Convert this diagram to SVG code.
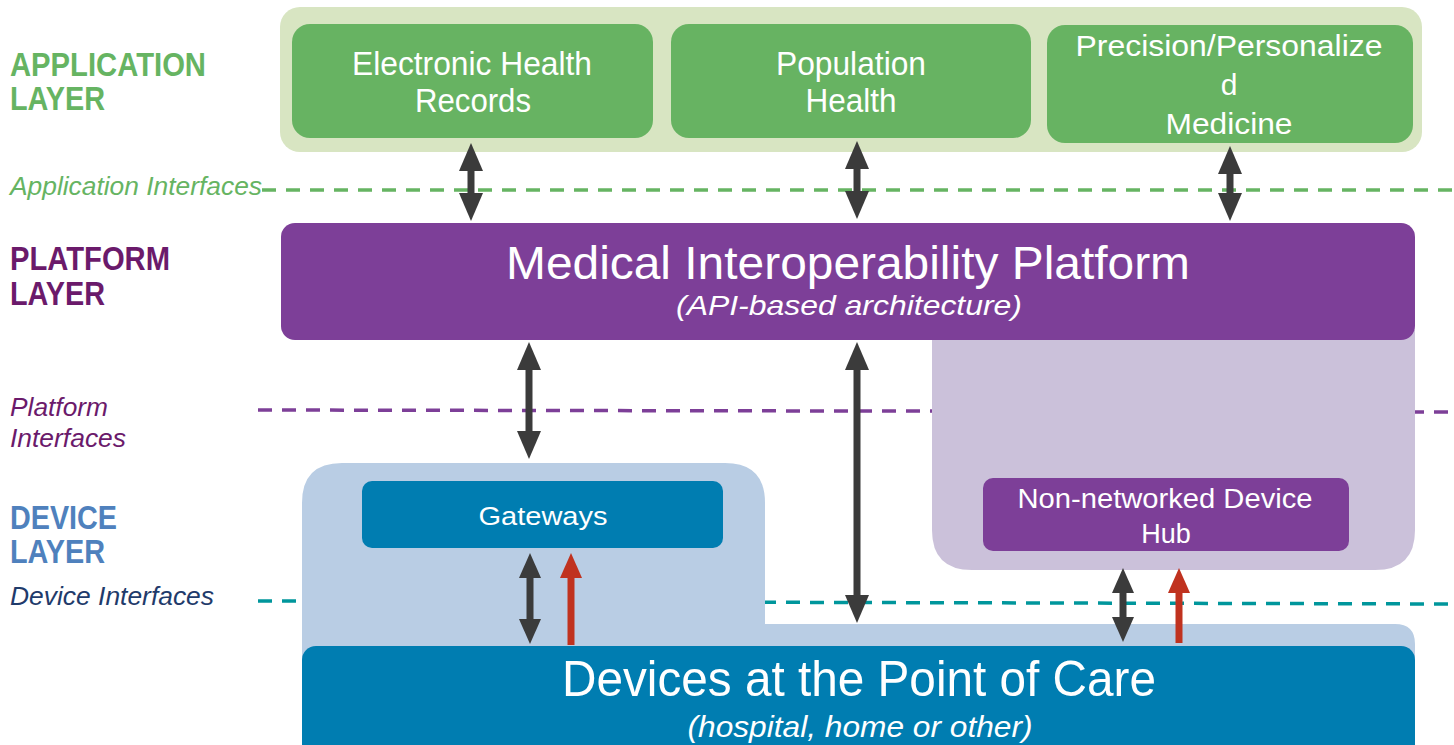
<svg xmlns="http://www.w3.org/2000/svg" width="1454" height="745" viewBox="0 0 1454 745">
<style>
text{font-family:"Liberation Sans",Arial,sans-serif;}
.lbl{font-weight:bold;font-size:33px;}
.it{font-style:italic;}
.w{fill:#ffffff;text-anchor:middle;}
.dash{stroke-width:3.5;stroke-dasharray:14 10;fill:none;}
.arr{stroke:#3b3b3b;stroke-width:7;fill:none;marker-start:url(#hd);marker-end:url(#hd);}
.arrs{stroke:#3b3b3b;stroke-width:7;fill:none;marker-start:url(#hs);marker-end:url(#hs);}
.red{stroke:#c0321f;stroke-width:7;fill:none;marker-end:url(#hr);}
</style>
<defs>
<marker id="hd" markerUnits="userSpaceOnUse" markerWidth="28" markerHeight="24" viewBox="0 0 28 24" refX="1" refY="12" orient="auto-start-reverse"><path d="M0,0 L28,12 L0,24 z" fill="#3b3b3b"/></marker>
<marker id="hs" markerUnits="userSpaceOnUse" markerWidth="25" markerHeight="22" viewBox="0 0 25 22" refX="1" refY="11" orient="auto-start-reverse"><path d="M0,0 L25,11 L0,22 z" fill="#3b3b3b"/></marker>
<marker id="hr" markerUnits="userSpaceOnUse" markerWidth="25" markerHeight="22" viewBox="0 0 25 22" refX="1" refY="11" orient="auto"><path d="M0,0 L25,11 L0,22 z" fill="#c0321f"/></marker>
</defs>

<g id="interfaces">
<line class="dash" x1="262" y1="190" x2="1454" y2="190" stroke="#66b462"/>
<line class="dash" x1="258" y1="410" x2="1454" y2="412" stroke="#7d3f98"/>
<line class="dash" x1="258" y1="601" x2="1454" y2="604" stroke="#00969c"/>
</g>

<g id="labels">
<text class="lbl" x="10" y="76" fill="#66b462" textLength="196" lengthAdjust="spacingAndGlyphs">APPLICATION</text>
<text class="lbl" x="10" y="110" fill="#66b462" textLength="95" lengthAdjust="spacingAndGlyphs">LAYER</text>
<text class="it" x="10" y="195" font-size="25" fill="#66b462" textLength="252" lengthAdjust="spacingAndGlyphs">Application Interfaces</text>
<text class="lbl" x="10" y="270" fill="#6b1a6b" textLength="160" lengthAdjust="spacingAndGlyphs">PLATFORM</text>
<text class="lbl" x="10" y="305" fill="#6b1a6b" textLength="95" lengthAdjust="spacingAndGlyphs">LAYER</text>
<text class="it" x="10" y="416" font-size="25" fill="#6b1a6b" textLength="98" lengthAdjust="spacingAndGlyphs">Platform</text>
<text class="it" x="10" y="447" font-size="25" fill="#6b1a6b" textLength="116" lengthAdjust="spacingAndGlyphs">Interfaces</text>
<text class="lbl" x="10" y="529" fill="#4f81bd" textLength="107" lengthAdjust="spacingAndGlyphs">DEVICE</text>
<text class="lbl" x="10" y="563" fill="#4f81bd" textLength="95" lengthAdjust="spacingAndGlyphs">LAYER</text>
<text class="it" x="10" y="605" font-size="25" fill="#1f3b6b" textLength="204" lengthAdjust="spacingAndGlyphs">Device Interfaces</text>
</g>

<g id="application-layer">
<rect x="280" y="7" width="1142" height="145" rx="20" fill="#d8e5c2"/>
</g>
<g id="ehr">
<rect x="292" y="24" width="361" height="114" rx="18" fill="#67b362"/>
<text class="w" x="472" y="75" font-size="33" textLength="240" lengthAdjust="spacingAndGlyphs">Electronic Health</text>
<text class="w" x="473" y="112" font-size="33" textLength="116" lengthAdjust="spacingAndGlyphs">Records</text>
</g>
<g id="population-health">
<rect x="671" y="24" width="360" height="114" rx="18" fill="#67b362"/>
<text class="w" x="851" y="75" font-size="33" textLength="150" lengthAdjust="spacingAndGlyphs">Population</text>
<text class="w" x="851" y="112" font-size="33" textLength="91" lengthAdjust="spacingAndGlyphs">Health</text>
</g>
<g id="precision-medicine">
<rect x="1047" y="25" width="366" height="118" rx="18" fill="#67b362"/>
<text class="w" x="1229" y="56" font-size="30" textLength="307" lengthAdjust="spacingAndGlyphs">Precision/Personalize</text>
<text class="w" x="1229" y="95" font-size="30">d</text>
<text class="w" x="1229" y="134" font-size="30" textLength="127" lengthAdjust="spacingAndGlyphs">Medicine</text>
</g>

<g id="hub-region">
<path d="M932,330 H1415 V530 Q1415,570 1375,570 H972 Q932,570 932,530 Z" fill="#cbc1da"/>
</g>
<g id="platform">
<rect x="281" y="223" width="1134" height="117" rx="14" fill="#7d3f98"/>
<text class="w" x="848" y="279" font-size="46" textLength="684" lengthAdjust="spacingAndGlyphs">Medical Interoperability Platform</text>
<text class="w it" x="849" y="315" font-size="28" textLength="346" lengthAdjust="spacingAndGlyphs">(API-based architecture)</text>
</g>
<g id="hub">
<rect x="983" y="478" width="366" height="73" rx="10" fill="#7d3f98"/>
<text class="w" x="1165" y="508" font-size="27" textLength="295" lengthAdjust="spacingAndGlyphs">Non-networked Device</text>
<text class="w" x="1166" y="543" font-size="27">Hub</text>
</g>

<g id="device-region">
<path d="M302,503 Q302,463 342,463 H725 Q765,463 765,503 V624 H1395 Q1415,624 1415,644 V745 H302 Z" fill="#b9cde4"/>
</g>
<g id="gateways">
<rect x="362" y="481" width="361" height="67" rx="10" fill="#007db1"/>
<text class="w" x="543" y="525" font-size="26" textLength="129" lengthAdjust="spacingAndGlyphs">Gateways</text>
</g>
<g id="devices">
<rect x="302" y="646" width="1113" height="115" rx="14" fill="#007db1"/>
<text class="w" x="859" y="696" font-size="50" textLength="594" lengthAdjust="spacingAndGlyphs">Devices at the Point of Care</text>
<text class="w it" x="860" y="737" font-size="29" textLength="345" lengthAdjust="spacingAndGlyphs">(hospital, home or other)</text>
</g>

<g id="connectors">
<line class="arr" x1="471" y1="170" x2="471" y2="194"/>
<line class="arr" x1="857" y1="168" x2="857" y2="192"/>
<line class="arr" x1="1230" y1="173" x2="1230" y2="194"/>
<line class="arr" x1="529" y1="369" x2="529" y2="432"/>
<line class="arr" x1="857" y1="369" x2="857" y2="596"/>
<line class="arrs" x1="530" y1="577" x2="530" y2="620"/>
<line class="red" x1="571" y1="645" x2="571" y2="577"/>
<line class="arrs" x1="1123" y1="592" x2="1123" y2="618"/>
<line class="red" x1="1179" y1="643" x2="1179" y2="592"/>
</g>
</svg>
